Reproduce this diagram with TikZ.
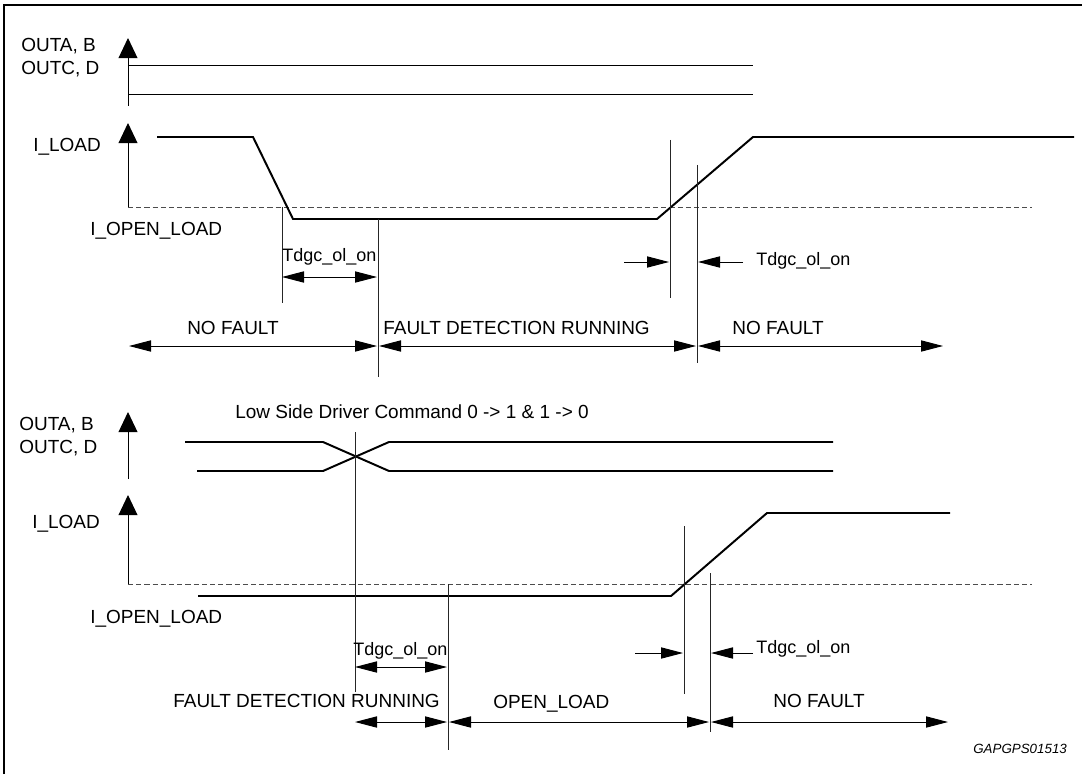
\documentclass[tikz,border=0pt]{standalone}
\usepackage{fontspec}
\setmainfont{Liberation Sans}
\usepackage{tikz}
\usetikzlibrary{arrows.meta,positioning}

\begin{document}
\begin{tikzpicture}[
  x=0.025cm, y=-0.025cm,
  lbl/.style={inner sep=0pt, font=\fontsize{13.5}{15}\selectfont},
  tlbl/.style={inner sep=0pt, font=\fontsize{12.8}{15}\selectfont},
  axis/.style={line width=0.7pt, -{Triangle[length=0.5cm, width=0.47cm]}},
  wave/.style={line width=1.4pt},
  level/.style={line width=0.7pt},
  thresh/.style={line width=0.7pt, black!70, dash pattern=on 0.13cm off 0.075cm},
  marker/.style={line width=0.6pt, black!85},
  span/.style={line width=0.7pt, {Triangle[length=0.55cm, width=0.28cm]}-{Triangle[length=0.55cm, width=0.28cm]}},
  tick/.style={line width=0.7pt, -{Triangle[length=0.55cm, width=0.28cm]}}
]
  \useasboundingbox (0,0) rectangle (1082,774);
  % frame
  \draw[line width=1.6pt] (4,774) -- (4,5) -- (1082,5);

  % ---------- upper diagram ----------
  \node[lbl, anchor=base west] (outab1) at (21,52)  {OUTA, B};
  \node[lbl, anchor=base west] (outcd1) at (21,75)  {OUTC, D};
  \node[lbl, anchor=base west] (iload1) at (33,152) {I\_LOAD};
  \node[lbl, anchor=base west] (iopen1) at (90,235) {I\_OPEN\_LOAD};
  \coordinate (o1) at (128,106);
  \coordinate (o1t) at (128,38);
  \coordinate (i1) at (128,207);
  \coordinate (i1t) at (128,123);
  \draw[axis] (o1) -- (o1t);
  \draw[axis] (i1) -- (i1t);
  \draw[level] (128,65) -- (753,65);
  \draw[level] (128,94) -- (753,94);
  \draw[thresh] (i1) -- (1032,207);
  \draw[wave] (157,137) -- (253,137) -- (293,219) -- (657,219) -- (753,137) -- (1074,137);

  % markers
  \coordinate (a1) at (282,207); \coordinate (a1e) at (282,303);
  \coordinate (a2) at (378,219); \coordinate (a2e) at (378,377);
  \coordinate (a3) at (670,140); \coordinate (a3e) at (670,298);
  \coordinate (a4) at (697,165); \coordinate (a4e) at (697,363);
  \draw[marker] (a1) -- (a1e);
  \draw[marker] (a2) -- (a2e);
  \draw[marker] (a3) -- (a3e);
  \draw[marker] (a4) -- (a4e);

  % Tdgc_ol_on
  \node[tlbl, anchor=base west] (tdgc1) at (282,261) {Tdgc\_ol\_on};
  \draw[span] (282,277) -- (377,277);
  \node[tlbl, anchor=base west] (tdgc2) at (756,265) {Tdgc\_ol\_on};
  \draw[tick] (624,262) -- (669,262);
  \draw[tick] (743,262) -- (698,262);

  % states
  \node[lbl, anchor=base west] (nf1) at (187,334) {NO FAULT};
  \node[lbl, anchor=base west] (fd1) at (383,334) {FAULT DETECTION RUNNING};
  \node[lbl, anchor=base west] (nf2) at (732,334) {NO FAULT};
  \draw[span] (129,346) -- (377,346);
  \draw[span] (379,346) -- (696,346);
  \draw[span] (698,346) -- (943,346);

  % ---------- lower diagram ----------
  \node[lbl, anchor=base west] (outab2) at (19,430) {OUTA, B};
  \node[lbl, anchor=base west] (outcd2) at (19,453) {OUTC, D};
  \node[lbl, anchor=base west] (iload2) at (32,528) {I\_LOAD};
  \node[lbl, anchor=base west] (iopen2) at (90,623) {I\_OPEN\_LOAD};
  \node[lbl, anchor=base west] (cmd) at (235,418) {Low Side Driver Command 0 -> 1 \& 1 -> 0};
  \coordinate (o2) at (128,479);
  \coordinate (o2t) at (128,412);
  \coordinate (i2) at (128,584);
  \coordinate (i2t) at (128,495);
  \draw[axis] (o2) -- (o2t);
  \draw[axis] (i2) -- (i2t);
  \draw[wave] (185,442) -- (323,442) -- (389,471) -- (833,471);
  \draw[wave] (197,471) -- (323,471) -- (389,442) -- (833,442);
  \draw[thresh] (i2) -- (1032,584);
  \draw[wave] (198,596) -- (671,596) -- (767,513) -- (950,513);

  % markers
  \coordinate (b1) at (355,432); \coordinate (b1e) at (355,692);
  \coordinate (b2) at (448,584); \coordinate (b2e) at (448,750);
  \coordinate (b3) at (684,526); \coordinate (b3e) at (684,694);
  \coordinate (b4) at (710,573); \coordinate (b4e) at (710,732);
  \draw[marker] (b1) -- (b1e);
  \draw[marker] (b2) -- (b2e);
  \draw[marker] (b3) -- (b3e);
  \draw[marker] (b4) -- (b4e);

  % Tdgc_ol_on
  \node[tlbl, anchor=base west] (tdgc3) at (353,655) {Tdgc\_ol\_on};
  \draw[span] (355,667) -- (447,667);
  \node[tlbl, anchor=base west] (tdgc4) at (756,653) {Tdgc\_ol\_on};
  \draw[tick] (635,653) -- (683,653);
  \draw[tick] (753,653) -- (711,653);

  % states
  \node[lbl, anchor=base west] (fd2) at (173,707) {FAULT DETECTION RUNNING};
  \node[lbl, anchor=base west] (ol)  at (493,708) {OPEN\_LOAD};
  \node[lbl, anchor=base west] (nf3) at (773,707) {NO FAULT};
  \draw[span] (355,722) -- (447,722);
  \draw[span] (449,722) -- (709,722);
  \draw[span] (711,722) -- (948,722);

  \node[inner sep=0pt, anchor=base west, font=\fontsize{9.5}{11}\selectfont\itshape] (ref) at (973,753) {GAPGPS01513};
\end{tikzpicture}
\end{document}
